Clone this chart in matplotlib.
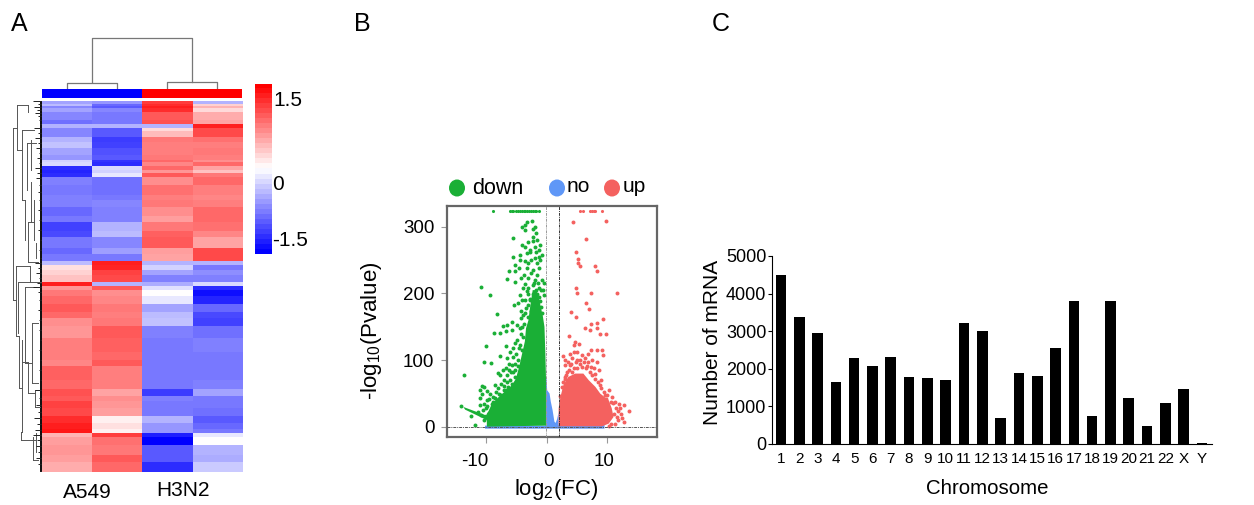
import numpy as np
import matplotlib
matplotlib.use("Agg")
import matplotlib.pyplot as plt
from matplotlib.colors import LinearSegmentedColormap
from matplotlib.patches import Ellipse

plt.rcParams["font.family"] = ["Liberation Sans", "DejaVu Sans"]
plt.rcParams["mathtext.default"] = "regular"

W, H = 1254, 505

# --- panel A data
samples = ["A549", "H3N2"]
band_tops = [0, 3, 5, 7, 11, 19, 23, 27, 30, 36, 41, 47, 54, 59, 61, 65, 69, 72, 76, 84, 94, 99, 106,
             115, 121, 130, 136, 147, 153, 160, 164, 169, 174, 181, 185, 189, 195, 203, 211, 217, 225,
             237, 251, 259, 265, 279, 288, 295, 300, 307, 315, 322, 328, 332, 336, 344, 354, 361]
band_end = 371
col1 = [-0.6, -0.45, -0.8, -0.6, -0.8, -0.95, -0.5, -0.8, -0.8, -0.5, -0.4, -0.6, -0.7, -0.3, -0.25,
        -1.4, -1.45, -1.4, -0.85, -0.9, -0.85, -0.85, -1.0, -0.9, -1.25, -1.2, -0.9, -1.0, -0.9, -0.45,
        0.2, 0.3, 0.4, 1.5, 0.7, 0.9, 1.0, 1.1, 1.0, 0.75, 0.7, 0.85, 0.85, 0.8, 1.05, 1.0, 1.15, 1.1,
        1.25, 1.2, 1.4, 1.5, 1.55, 0.5, 0.65, 0.7, 0.65, 0.55]
col2 = [-0.7, -1.0, -1.1, -0.8, -0.9, -0.9, -0.5, -1.1, -1.1, -1.3, -1.25, -1.15, -1.1, -1.35, -1.4,
        -0.25, -0.3, -0.15, -0.95, -0.95, -0.9, -0.8, -0.85, -0.85, -0.5, -0.45, -0.8, -0.65, -0.9, 1.5,
        1.45, 1.25, 1.2, -0.5, 1.1, 0.75, 0.8, 0.9, 0.85, 0.9, 1.1, 1.05, 1.0, 1.1, 0.85, 0.85, 0.6, 0.75,
        0.7, 0.65, 0.1, 0.2, 0.1, 1.3, 0.95, 0.9, 1.1, 1.0]
col3 = [1.3, 1.4, 1.5, 1.4, 1.1, 1.15, -0.5, 0.25, 0.45, 0.9, 0.85, 0.85, 0.9, 1.0, 0.8,
        1.0, 0.7, 1.1, 0.75, 0.95, 0.85, 0.9, 0.75, 0.65, 0.9, 1.05, 1.1, 0.65, 0.6, -0.5,
        -0.3, -0.6, -0.85, -0.55, -0.2, 0.0, -0.15, -0.6, -0.45, -0.4, -0.85, -0.9, -0.9, -0.9, -0.9, -0.9,
        -1.3, -0.85, -0.9, -0.9, -0.5, -0.7, -0.7, -1.5, -1.7, -1.1, -1.1, -1.4]
col4 = [-0.5, 0.3, 0.5, 0.25, 0.55, 0.6, 1.5, 1.2, 1.2, 0.95, 0.85, 0.9, 0.85, 0.75, 1.0,
        0.6, 0.4, 0.9, 1.0, 0.85, 0.8, 0.85, 1.0, 1.0, 0.95, 0.8, 0.6, 1.2, 1.2, -0.5,
        -0.9, -0.75, -0.85, -0.25, -1.4, -1.6, -1.45, -1.0, -1.2, -1.25, -0.95, -0.85, -0.9, -0.9, -0.9, -0.85,
        -0.6, -0.9, -0.9, -0.95, -1.1, -1.0, -0.9, -0.15, 0.0, -0.5, -0.55, -0.35]

# row dendrogram, read as vertical and horizontal strokes (page pixels)
tree_v = [(13, 128, 300), (17, 105, 150), (22, 130, 200), (28, 105, 112), (27, 143, 190), (31, 140, 170),
          (25, 200, 240), (28, 222, 262), (16, 266, 335), (19, 336, 388), (17.5, 283, 333), (25, 287, 363),
          (32, 323, 383), (22, 340, 432), (28, 362, 393), (35, 390, 407), (21, 432, 440), (33, 437, 460),
          (31, 182, 222), (34, 200, 240), (30, 266, 282), (36, 243, 258), (36, 433, 452)]
tree_h = [(128, 13, 17), (105, 17, 28), (150, 17, 22), (130, 22, 34), (200, 22, 25), (143, 27, 36),
          (300, 13, 16), (266, 16, 30), (282, 17.5, 42), (287, 25, 36), (336, 16, 19), (388, 19, 22),
          (363, 25, 32), (323, 32, 38), (383, 32, 38), (432, 22, 21), (440, 21, 36), (393, 28, 35),
          (362, 22, 28), (407, 35, 40), (460, 33, 38), (222, 28, 34), (262, 28, 38), (390, 35, 40)]
fringe_y = [101, 104, 107, 110, 113, 116, 120, 124, 128, 133, 138, 143, 148, 153, 158, 163, 168, 173, 178,
            185, 192, 200, 210, 220, 230, 240, 250, 258, 263, 268, 273, 278, 283, 287, 292, 300, 310, 320,
            330, 340, 350, 360, 370, 380, 390, 398, 405, 412, 418, 424, 430, 435, 440, 446, 452, 458, 464, 471]
fringe_x = [33, 38, 34, 37, 35, 38, 39, 40, 34, 38, 35, 38, 36, 39, 37, 39, 35, 37, 36,
            39, 38, 39, 38, 39, 38, 40, 39, 40, 35, 38, 36, 39, 37, 33, 38, 39, 38, 39,
            39, 40, 39, 40, 39, 40, 35, 39, 36, 38, 34, 37, 35, 33, 37, 36, 38, 36, 38, 40]

# --- panel B data
down_x = [-2.4, -3.3, -3.6, -4.0, -3.5, -1.9, -2.3, -1.8, -2.2, -5.6, -1.6, -2.3, -4.1, -3.0, -1.05, -2.0,
          -3.5, -1.3, -2.7, -3.3, -4.4, -5.6, -0.8, -1.9, -3.5, -4.4, -3.0, -5.3, -1.6, -1.05, -4.5, -6.3,
          -3.3, -2.2, -1.3, -5.2, -3.8, -2.5, -1.6, -6.6, -4.2, -3.0, -2.0, -5.2, -3.6, -0.5, -10.9, -2.3,
          -3.0, -3.3, -1.8, -1.3, -0.65, -2.3, -3.1, -1.6, -4.4, -9.3, -0.5, -3.5, -2.7, -1.9, -4.7, -5.4,
          -1.05, -2.3, -3.1, -1.6, -8.2, -4.2, -2.5, -3.5, -1.9, -0.8, -3.0, -4.2, -1.3, -2.3,
          -5.7, -6.6, -7.3, -5.7, -6.8, -7.7, -8.7, -4.9, -4.4, -4.9, -5.2, -10.0, -6.7, -5.5, -4.4, -6.0,
          -7.7, -4.1, -10.3, -9.2, -6.6, -5.5, -6.2, -5.7, -7.3, -8.0, -13.7, -7.7, -6.6, -5.5, -5.2, -6.1,
          -8.6, -7.1, -10.7, -10.3, -11.1, -9.9, -8.0, -6.4, -5.5, -10.7, -9.4, -7.6, -11.1, -9.9, -8.5,
          -6.8, -10.3, -9.1, -6.0, -7.6, -11.0, -14.1, -12.5, -11.8, -10.4,
          -3.4, -3.9, -3.7, -4.1, -4.3, -3.9, -4.6, -5.0, -4.8, -5.3, -4.7, -6.8, -6.3, -5.9, -5.2, -7.0,
          -6.5, -7.5, -5.8, -8.3, -7.9, -8.8, -7.1, -6.7, -9.5, -10.0, -10.5, -11.3, -10.9, -10.1, -9.8,
          -8.9, -8.2, -2.8, -1.3, -0.9, -2.1, -3.9, -4.0, -1.0, -0.7, -1.5, -2.6, -2.8, -1.2, -1.8]
down_y = [309, 307, 303, 299, 295, 300, 297, 290, 285, 283, 280, 278, 273, 277, 273, 270,
          269, 265, 265, 260, 257, 255, 258, 253, 248, 250, 245, 243, 245, 250, 238, 234,
          238, 235, 238, 234, 228, 230, 228, 222, 223, 223, 220, 217, 214, 215, 209, 213,
          208, 204, 205, 208, 205, 199, 199, 199, 197, 197, 198, 190, 192, 193, 186, 183,
          188, 185, 183, 183, 169, 174, 174, 170, 175, 170, 164, 163, 165, 163,
          158, 153, 151, 145, 144, 141, 141, 153, 148, 130, 126, 121, 121, 118, 123, 112,
          107, 115, 98, 96, 103, 105, 95, 93, 86, 81, 78, 78, 78, 83, 75, 70,
          63, 62, 61, 60, 55, 54, 58, 60, 58, 49, 49, 48, 43, 40, 43,
          48, 35, 35, 45, 35, 33, 31, 16, 3, 10,
          178, 168, 155, 150, 140, 135, 118, 110, 100, 95, 92, 88, 85, 82, 85, 70,
          68, 65, 65, 52, 50, 45, 55, 55, 42, 28, 25, 22, 18, 16, 32,
          38, 36, 190, 195, 180, 215, 208, 190, 205, 220, 215, 250, 262, 255, 262]
down_cap_x = [-8.8, -6.1, -5.8, -5.6, -5.0, -4.7, -4.4, -4.1, -3.8, -3.5, -3.2, -2.9, -2.6, -2.3, -2.0, -1.7, -1.3]
up_cap_x = [5.6, 6.1, 7.2, 7.5, 7.8, 8.0, 9.2]
cap_y = 324
up_x = [4.3, 9.8, 6.6, 4.8, 5.2, 5.2, 5.6, 8.0, 8.3, 4.8, 5.1, 7.3, 11.7, 6.5, 7.0, 4.0, 4.9, 9.3,
        8.3, 7.4, 6.4, 7.2, 8.3, 8.8, 9.9, 3.7, 4.7, 5.3, 4.5, 7.4, 8.3, 9.2, 4.5, 5.1, 9.3, 2.7, 3.9,
        5.9, 6.9, 6.3, 4.2, 5.0, 8.3, 6.9, 5.6, 3.1, 3.9, 7.8, 4.5, 3.4, 7.2, 3.1, 8.9, 10.3, 9.7, 2.3,
        10.8, 12.9, 11.4, 13.7, 12.0, 12.4, 11.7, 12.8, 10.7, 10.3,
        3.0, 3.5, 4.1, 4.8, 5.5, 6.2, 7.5, 6.7, 5.9, 5.1, 3.7, 4.2, 6.6, 7.6, 8.0, 8.6, 9.0, 9.5, 10.0,
        10.6, 11.0, 11.5, 11.9, 11.2, 11.8, 3.0, 2.7, 2.5, 3.3, 7.3, 8.7, 8.1, 9.1, 9.8, 12.1, 12.5, 11.4]
up_y = [307, 308, 282, 262, 252, 245, 241, 241, 234, 208, 201, 201, 201, 186, 177, 172, 164, 161,
        156, 154, 148, 146, 148, 140, 140, 137, 127, 125, 123, 116, 116, 116, 113, 113, 108, 107, 109,
        108, 110, 103, 103, 101, 98, 98, 95, 93, 93, 88, 88, 83, 83, 75, 63, 55, 48, 47,
        45, 33, 38, 24, 35, 19, 15, 8, 5, 2,
        100, 98, 95, 98, 100, 98, 100, 92, 90, 88, 85, 82, 88, 78, 72, 68, 58, 52, 48,
        38, 36, 28, 24, 20, 10, 72, 68, 60, 78, 90, 85, 80, 70, 42, 28, 14, 5]
# the solid masses of overlapping points, as outlines
down_mass_x = [-9.9, -9.9, -9.6, -9.2, -8.7, -7.8, -6.8, -5.8, -5.1, -4.6, -4.1, -3.6, -3.4, -3.0, -2.8, -2.3,
               -1.7, -1.2, -0.6, -0.35, -0.2, -0.1, -0.1]
down_mass_y = [0.5, 20, 24, 32, 38, 46, 54, 62, 72, 88, 108, 128, 148, 160, 175, 205,
               205, 190, 165, 150, 110, 75, 2]
streak_x = [-13.8, -9.6, -9.6, -13.5]
streak_y = [30, 16, 9, 26]
no_mass_x = [-0.2, 0.0, 0.1, 0.5, 0.7, 1.0, 1.3, 1.5, 1.75, 2.0, 2.0, 9.6, 9.6, -10.2, -10.2, -0.2]
no_mass_y = [75, 72, 55, 50, 38, 25, 8, 6, 12, 22, 3, 3, -2.5, -2.5, 2, 2]
up_mass_x = [2.0, 2.3, 2.8, 3.6, 4.75, 6.1, 7.0, 8.1, 8.9, 10.3, 10.8, 11.1, 10.3, 9.2, 2.0]
up_mass_y = [28, 45, 63, 75, 80, 80, 70, 60, 50, 40, 28, 15, 5, 1, 1]
b_yticks = [0, 100, 200, 300]
b_xticks = [-10, 0, 10]

# --- panel C data
chromosomes = [str(i) for i in range(1, 23)] + ["X", "Y"]
mrna_counts = [4495, 3380, 2945, 1650, 2280, 2075, 2305, 1775, 1745, 1700, 3210, 3005, 680, 1895, 1815,
               2560, 3800, 750, 3800, 1225, 480, 1080, 1455, 35]


def axes_px(left, top, right, bottom, **kw):
    return fig.add_axes([left / W, 1 - bottom / H, (right - left) / W, (bottom - top) / H], **kw)


fig = plt.figure(figsize=(W / 100, H / 100), dpi=100)
heat_cmap = LinearSegmentedColormap.from_list("bwr2", ["#0000ff", "#ffffff", "#ff0000"])

# page axes in pixels, for letters, dendrograms, legend and labels
page = axes_px(0, 0, W, H)
page.set_xlim(0, W)
page.set_ylim(H, 0)
page.axis("off")
for label, x, y in [("A", 19, 24), ("B", 362, 24), ("C", 721, 24)]:
    page.text(x, y, label, fontsize=18, ha="center", va="center")

# panel A: one image row per pixel
hm = axes_px(42, 101, 242, 472)
values = np.array([col1, col2, col3, col4]).T
row_index = np.searchsorted(band_tops, np.arange(band_end), side="right") - 1
hm.imshow(values[row_index], cmap=heat_cmap, vmin=-1.7, vmax=1.7, aspect="auto", interpolation="nearest")
hm.axis("off")

ann = axes_px(42, 89, 242, 98)
ann.pcolormesh([0, 2, 4], [0, 1], [[-1, 1]], cmap=heat_cmap, vmin=-1, vmax=1)
ann.axis("off")

tree_c = "#777777"
for x, y0, y1 in tree_v:
    page.plot([x, x], [y0, y1], color="#555555", lw=0.7)
for y, x0, x1 in tree_h:
    page.plot([x0, x1], [y, y], color="#555555", lw=0.7)
page.hlines(fringe_y, fringe_x, 42, color="#222222", lw=0.7)
page.fill_betweenx([101, 472], 39.5, 42, color="#111111", lw=0)
# column dendrogram
page.plot([92, 92, 192, 192], [82, 38, 38, 82], color=tree_c, lw=0.9)
page.plot([67, 67, 117, 117], [88, 83, 83, 88], color=tree_c, lw=0.9)
page.plot([167, 167, 217, 217], [88, 82, 82, 88], color=tree_c, lw=0.9)

page.text(87, 492, samples[0], fontsize=15, ha="center", va="center")
page.text(183, 490, samples[1], fontsize=15, ha="center", va="center")

cb = axes_px(255, 84, 272, 254)
cb_levels = np.linspace(1.55, -1.55, 34).reshape(-1, 1)
cb.imshow(cb_levels, cmap=heat_cmap, vmin=-1.55, vmax=1.55, aspect="auto")
cb.axis("off")
page.text(273, 100, "1.5", fontsize=15, ha="left", va="center")
page.text(272, 184, "0", fontsize=15, ha="left", va="center")
page.text(272, 240, "-1.5", fontsize=15, ha="left", va="center")

# panel B
vol = axes_px(447, 206, 657, 437)
vol.set_xlim(-16.5, 18.3)
vol.set_ylim(-15, 331)
green, blue, red = "#1aaf36", "#5f97f7", "#f4615f"
vol.fill(no_mass_x, no_mass_y, color=blue, lw=0, zorder=2)
vol.fill(down_mass_x, down_mass_y, color=green, lw=0, zorder=3)
vol.fill(streak_x, streak_y, color=green, lw=0, zorder=3)
vol.fill(up_mass_x, up_mass_y, color=red, lw=0, zorder=3)
vol.scatter(down_x, down_y, s=8, color=green, lw=0, zorder=3)
vol.scatter(up_x, up_y, s=8, color=red, lw=0, zorder=3)
vol.scatter(down_cap_x, [cap_y] * len(down_cap_x), s=5, color=green, lw=0, zorder=3)
vol.scatter(up_cap_x, [cap_y] * len(up_cap_x), s=5, color=red, lw=0, zorder=3)
vol.axvline(-0.15, color="#999999", lw=0.7, ls=(0, (3, 1, 1, 1)), zorder=4)
vol.axvline(2.0, color="#333333", lw=0.7, ls=(0, (3, 1, 1, 1)), zorder=4)
vol.axhline(0, color="#555555", lw=0.7, ls=(0, (3, 1, 1, 1)), zorder=4)
for s in vol.spines.values():
    s.set_linewidth(1.6)
    s.set_color("#666666")
vol.set_xticks(b_xticks)
vol.set_xticklabels([])
vol.set_yticks(b_yticks)
vol.tick_params(axis="both", labelsize=13.5, length=4, color="#999999", width=0.8)
vol.tick_params(axis="y", pad=5)
# x labels sit off their ticks in the original
for tick, px in zip(b_xticks, [475, 549, 604]):
    page.text(px, 462, str(tick), fontsize=13.5, ha="center", va="center")
page.text(372, 331, r"-log$_{10}$(Pvalue)", fontsize=16, rotation=90, ha="center", va="center")
page.text(556, 490, r"log$_{2}$(FC)", fontsize=16, ha="center", va="center")

for cx, colour in [(457, green), (557, blue), (612, red)]:
    page.add_patch(Ellipse((cx, 188), 16, 17, color=colour, lw=0))
page.text(472, 189, "down", fontsize=15.5, ha="left", va="center")
page.text(567, 187, "no", fontsize=15, ha="left", va="center")
page.text(623, 187, "up", fontsize=15, ha="left", va="center")

# panel C
bar = axes_px(772, 256, 1212, 444)
bar.bar(range(len(mrna_counts)), mrna_counts, width=0.58, color="black")
bar.set_xlim(-0.49, 23.55)
bar.set_ylim(0, 5000)
bar.set_xticks(range(len(chromosomes)))
bar.set_xticklabels(chromosomes)
bar.set_yticks([0, 1000, 2000, 3000, 4000, 5000])
bar.spines["top"].set_visible(False)
bar.spines["right"].set_visible(False)
bar.tick_params(axis="x", labelsize=11, length=0, pad=6)
bar.tick_params(axis="y", labelsize=13, length=3, pad=1)
page.text(712, 342, "Number of mRNA", fontsize=15, rotation=90, ha="center", va="center")
page.text(987, 488, "Chromosome", fontsize=14.7, ha="center", va="center")

fig.savefig("out.png", dpi=100)
